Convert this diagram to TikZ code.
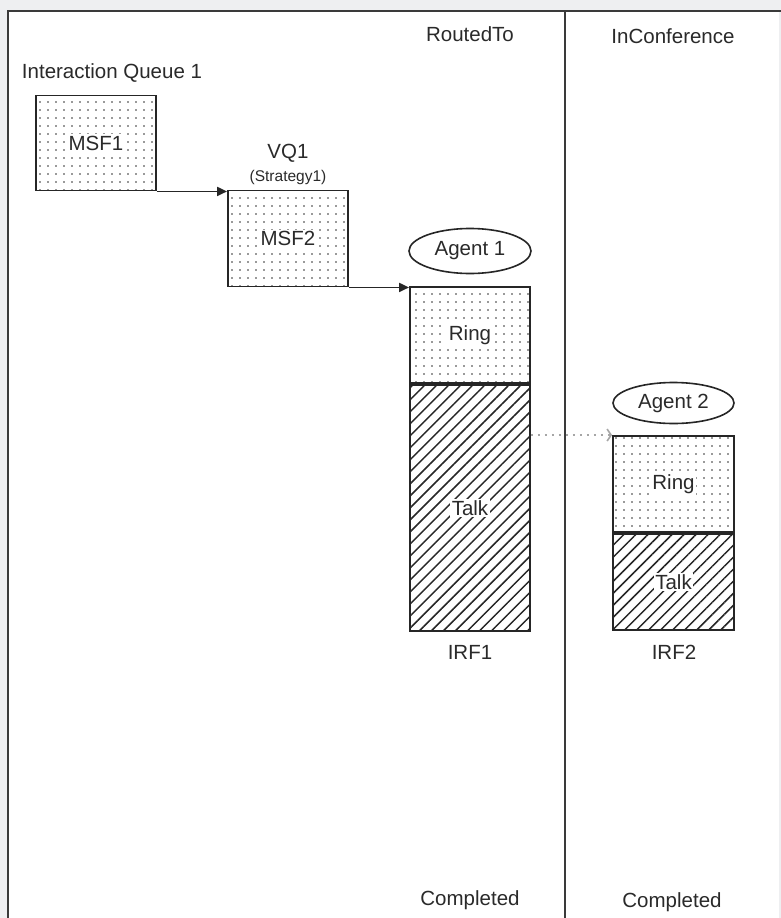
\documentclass[tikz,border=0pt]{standalone}
\usepackage{fontspec}
\setmainfont{Liberation Sans}
\usetikzlibrary{arrows.meta,positioning,shapes.geometric,patterns.meta}
\definecolor{frameline}{HTML}{3A3A3A}
\definecolor{inktext}{HTML}{2A2A2A}
\definecolor{margin}{HTML}{EEEFF1}
\tikzset{
  lbl/.style={text=inktext,font=\fontsize{20.5}{24}\selectfont,inner sep=0pt},
  boxtext/.style={label={[lbl,fill=white,inner sep=1.5pt]center:#1}},
  dotbox/.style={draw=black!85,line width=1.9pt,inner sep=0pt,minimum width=120pt,
    pattern={Dots[distance=8pt,radius=0.85pt]},pattern color=black!80},
  hatchbox/.style={draw=black!85,line width=1.9pt,inner sep=0pt,minimum width=120pt,
    pattern={Lines[angle=45,distance=8.5pt,line width=1.5pt]},pattern color=black!85},
  agent/.style={draw=black!85,ellipse,line width=1.6pt,inner sep=0pt,lbl},
}
\begin{document}
\begin{tikzpicture}[x=1pt,y=-1pt,>={Triangle[length=10pt,width=9pt]}]
\useasboundingbox (0,0) rectangle (781,918);
\fill[margin] (0,0) rectangle (781,918);
\fill[white] (8,11) rectangle (779,918);
\draw[frameline,line width=2.4pt] (8,918) -- (8,11) -- (781,11);
\draw[frameline,line width=2.4pt] (565,11) -- (565,918);

\node[lbl] (routed) at (470,34) {RoutedTo};
\node[lbl] (conf) at (673,36) {InConference};
\node[lbl] (iq) at (112,73) {Interaction Queue 1};

\node[dotbox,boxtext=MSF1,minimum height=95pt] (msfA) at (96,143) {};
\node[lbl] (vq) at (288,153) {VQ1};
\node[lbl,font=\fontsize{15.5}{18}\selectfont] (strat) at (288,177) {(Strategy1)};
\node[dotbox,boxtext=MSF2,minimum height=96pt] (msfB) at (288,238.5) {};

\node[agent,minimum width=122pt,minimum height=45pt] (agentA) at (470,251) {Agent 1};
\node[dotbox,boxtext=Ring,minimum height=96pt] (ringA) at (470,335) {};
\node[hatchbox,boxtext=Talk,minimum height=246pt,below=0pt of ringA] (talkA) {};
\node[lbl] (irfA) at (470,652) {IRF1};

\node[agent,minimum width=121pt,minimum height=41pt] (agentB) at (673.5,403) {Agent 2};
\node[dotbox,boxtext=Ring,minimum width=121pt,minimum height=96pt] (ringB) at (673.5,484) {};
\node[hatchbox,boxtext=Talk,minimum width=121pt,minimum height=96pt,below=0pt of ringB] (talkB) {};
\node[lbl] (irfB) at (674,652) {IRF2};

\node[lbl] (doneA) at (470,900) {Completed};
\node[lbl] (doneB) at (672,902) {Completed};

\draw[->,line width=1.9pt,black!85] (msfA.south east) -- (msfB.north west |- msfA.south east);
\draw[->,line width=1.9pt,black!85] (msfB.south east) -- (ringA.north west |- msfB.south east);
\draw[-{Straight Barb[length=4pt,width=12pt]},gray!70,line width=1.6pt,dash pattern=on 2pt off 5pt]
  (talkA.east |- ringB.north west) -- (ringB.north west);
\end{tikzpicture}
\end{document}
